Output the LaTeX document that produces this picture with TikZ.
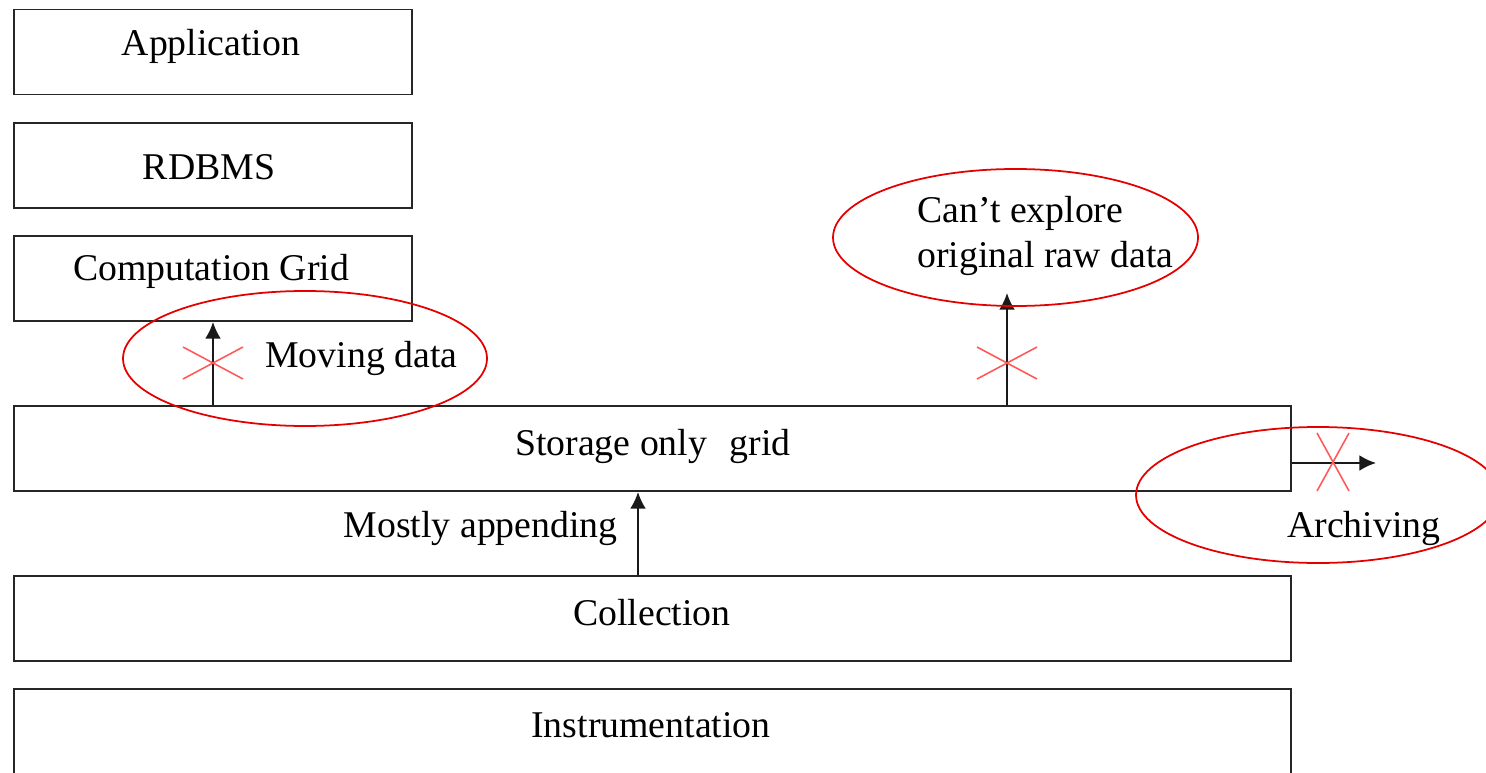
\documentclass[tikz,border=0pt]{standalone}
\usepackage{fontspec}
\setmainfont{Liberation Serif}
\usetikzlibrary{shapes.geometric,arrows.meta}
\def\px{0.02cm}
\begin{document}
\begin{tikzpicture}[x=0.02cm,y=-0.02cm,
  font=\fontsize{21.5}{26}\selectfont,
  layer/.style={draw=black!85,line width=1.1pt,rectangle,inner sep=0pt,
                minimum height={85*\px}},
  small/.style={layer,minimum width={398*\px}},
  wide/.style={layer,minimum width={1277*\px}},
  lbl/.style={anchor=base,inner sep=0pt},
  note/.style={draw=red!90!black,line width=1pt,ellipse,inner sep=0pt},
  flow/.style={draw=black!90,line width=1.1pt,-{Latex[length=9.5pt,width=9pt]}},
  cross/.style={draw=red!65,line width=0.9pt}]
\useasboundingbox (0,0) rectangle (1486,773);
\clip (0,0) rectangle (1486,773);

% layer stack
\node[small] (app)  at (213,52)    {};
\node[small] (rdb)  at (213,165.5) {};
\node[small] (comp) at (213,278.5) {};
\node[wide]  (stor) at (652.5,448.5) {};
\node[wide]  (coll) at (652.5,618.5) {};
\node[wide,minimum height={90*\px}] (inst) at (652.5,734) {};

\node[lbl] at (211,56)  {Application};
\node[lbl] at (209,180) {RDBMS};
\node[lbl] at (211,280) {Computation Grid};
\node[lbl] at (653,455) {Storage only\hspace{0.6em}grid};
\node[lbl] at (652,625) {Collection};
\node[lbl] at (651,737) {Instrumentation};

% data flows
\coordinate (up1)  at (213,363);
\coordinate (up2)  at (1007,363);
\coordinate (tip2) at (1007,293);
\coordinate (tip3) at (1376,463);
\draw[flow] (stor.north -| up1) -- (comp.south);
\draw[flow] (stor.north -| up2) -- (tip2);
\draw[flow] (coll.north -| 638,0) -- (stor.south -| 638,0);
\draw[flow] (stor.east |- tip3) -- (tip3);

\node[lbl,anchor=base east] at (618,537) {Mostly appending};

% blocked paths
\coordinate (x3) at (1333,462);
\draw[cross] ([shift={(-30,-16)}]up1) -- ([shift={(30,16)}]up1)
             ([shift={(-30,16)}]up1) -- ([shift={(30,-16)}]up1);
\draw[cross] ([shift={(-30,-16)}]up2) -- ([shift={(30,16)}]up2)
             ([shift={(-30,16)}]up2) -- ([shift={(30,-16)}]up2);
\draw[cross] ([shift={(-16,-29)}]x3) -- ([shift={(16,29)}]x3)
             ([shift={(-16,29)}]x3) -- ([shift={(16,-29)}]x3);

% annotations
\node[note,minimum width={364*\px},minimum height={135*\px}] (mov) at (305,358.5) {};
\node[note,minimum width={365*\px},minimum height={137*\px}] (raw) at (1015.5,237.5) {};
\node[note,minimum width={364*\px},minimum height={136*\px}] (arc) at (1318,495) {};

\node[lbl,anchor=base west] at (265,367) {Moving data};
\node[lbl,anchor=base west] at (917,223) {Can’t explore};
\node[lbl,anchor=base west] at (917,268) {original raw data};
\node[lbl,anchor=base west] at (1287,537) {Archiving};
\end{tikzpicture}
\end{document}
